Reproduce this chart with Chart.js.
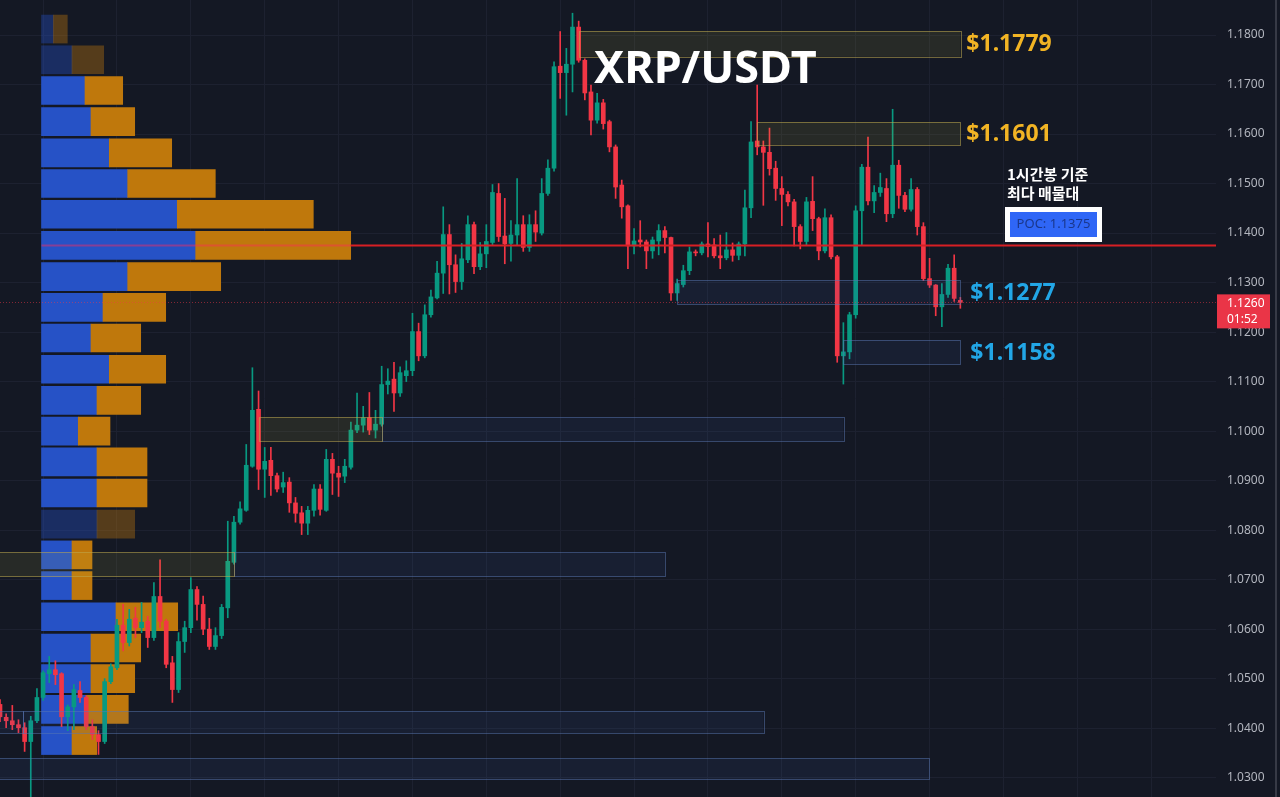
<!DOCTYPE html>
<html><head><meta charset="utf-8">
<script src="https://cdn.jsdelivr.net/npm/chart.js@4.4.0/dist/chart.umd.min.js"></script>
<style>html,body{margin:0;padding:0;background:#141824;overflow:hidden}canvas{display:block}</style>
</head><body>
<canvas id="c" width="1280" height="797"></canvas>
<script>
// ---- 1h candles (index 0 = leftmost visible) ----
const open  = [1.0448,1.0422,1.0415,1.0407,1.0401,1.0373,1.0415,1.0462,1.0510,1.0518,1.0510,1.0423,1.0443,1.0476,1.0462,1.0403,1.0387,1.0373,1.0494,1.0522,
1.0608,1.0573,1.0622,1.0603,1.0616,1.0583,1.0666,1.0616,1.0532,1.0478,1.0575,1.0603,1.0680,1.0650,1.0600,1.0565,1.0587,1.0643,1.0735,1.0816,
1.0840,1.0929,1.1044,1.0923,1.0941,1.0910,1.0887,1.0897,1.0855,1.0835,1.0814,1.0840,1.0883,1.0840,1.0943,1.0915,1.0909,1.0927,1.1002,1.1012,
1.1027,1.1002,1.1014,1.1094,1.1105,1.1077,1.1112,1.1122,1.1201,1.1152,1.1235,1.1269,1.1319,1.1397,1.1336,1.1302,1.1346,1.1417,1.1332,1.1358,
1.1381,1.1480,1.1394,1.1379,1.1396,1.1417,1.1371,1.1417,1.1400,1.1480,1.1531,1.1737,1.1724,1.1741,1.1816,1.1749,1.1685,1.1628,1.1663,1.1625,
1.1574,1.1497,1.1455,1.1374,1.1386,1.1382,1.1364,1.1384,1.1405,1.1391,1.1279,1.1296,1.1324,1.1362,1.1360,1.1378,1.1376,1.1354,1.1350,1.1366,
1.1355,1.1378,1.1451,1.1586,1.1574,1.1563,1.1531,1.1490,1.1478,1.1463,1.1413,1.1383,1.1464,1.1429,1.1364,1.1431,1.1352,1.1152,1.1160,1.1235,
1.1445,1.1533,1.1465,1.1482,1.1490,1.1439,1.1537,1.1476,1.1448,1.1488,1.1413,1.1308,1.1295,1.1251,1.1276,1.1329,1.1264];
const high  = [1.0458,1.0429,1.0446,1.0417,1.0411,1.0424,1.0480,1.0516,1.0545,1.0536,1.0512,1.0447,1.0488,1.0494,1.0466,1.0417,1.0395,1.0500,1.0530,1.0620,
1.0650,1.0640,1.0644,1.0654,1.0626,1.0694,1.0740,1.0620,1.0545,1.0593,1.0616,1.0704,1.0686,1.0667,1.0622,1.0603,1.0650,1.0818,1.0828,1.0857,
1.0973,1.1128,1.1081,1.0967,1.0967,1.0915,1.0917,1.0906,1.0866,1.0848,1.0848,1.0892,1.0892,1.0963,1.0955,1.0929,1.0943,1.1018,1.1077,1.1050,
1.1078,1.1042,1.1131,1.1126,1.1139,1.1130,1.1142,1.1238,1.1218,1.1255,1.1285,1.1343,1.1453,1.1417,1.1356,1.1379,1.1435,1.1422,1.1381,1.1417,
1.1498,1.1500,1.1470,1.1425,1.1510,1.1435,1.1437,1.1445,1.1510,1.1548,1.1746,1.1807,1.1773,1.1844,1.1828,1.1752,1.1699,1.1682,1.1670,1.1628,
1.1578,1.1507,1.1457,1.1409,1.1425,1.1386,1.1392,1.1417,1.1413,1.1392,1.1307,1.1335,1.1372,1.1366,1.1382,1.1421,1.1389,1.1396,1.1401,1.1380,
1.1382,1.1487,1.1625,1.1699,1.1586,1.1612,1.1545,1.1514,1.1484,1.1468,1.1417,1.1472,1.1514,1.1432,1.1449,1.1437,1.1355,1.1219,1.1240,1.1455,
1.1539,1.1594,1.1496,1.1521,1.1510,1.1650,1.1547,1.1482,1.1510,1.1492,1.1421,1.1349,1.1296,1.1298,1.1337,1.1356,1.1270];
const low   = [1.0413,1.0401,1.0397,1.0391,1.0353,1.0240,1.0411,1.0456,1.0492,1.0488,1.0403,1.0395,1.0397,1.0452,1.0397,1.0377,1.0347,1.0369,1.0490,1.0518,
1.0556,1.0566,1.0583,1.0593,1.0563,1.0577,1.0603,1.0522,1.0452,1.0472,1.0553,1.0593,1.0618,1.0589,1.0559,1.0559,1.0581,1.0623,1.0731,1.0812,
1.0838,1.0927,1.0882,1.0866,1.0870,1.0877,1.0876,1.0836,1.0816,1.0791,1.0791,1.0828,1.0830,1.0838,1.0872,1.0868,1.0896,1.0923,1.0997,1.0998,
1.0993,1.0986,1.1010,1.1075,1.1040,1.1070,1.1100,1.1112,1.1142,1.1148,1.1230,1.1267,1.1278,1.1277,1.1280,1.1286,1.1340,1.1318,1.1326,1.1330,
1.1375,1.1383,1.1338,1.1343,1.1375,1.1363,1.1363,1.1383,1.1396,1.1476,1.1525,1.1672,1.1638,1.1685,1.1745,1.1669,1.1598,1.1622,1.1610,1.1564,
1.1470,1.1430,1.1328,1.1358,1.1372,1.1328,1.1349,1.1356,1.1360,1.1264,1.1264,1.1291,1.1316,1.1354,1.1356,1.1352,1.1350,1.1328,1.1346,1.1343,
1.1346,1.1354,1.1431,1.1558,1.1456,1.1517,1.1466,1.1415,1.1455,1.1374,1.1368,1.1375,1.1405,1.1346,1.1360,1.1348,1.1139,1.1095,1.1146,1.1228,
1.1376,1.1457,1.1441,1.1474,1.1423,1.1431,1.1450,1.1443,1.1444,1.1396,1.1304,1.1290,1.1233,1.1211,1.1270,1.1262,1.1248];
const close = [1.0423,1.0415,1.0407,1.0401,1.0373,1.0415,1.0462,1.0512,1.0518,1.0508,1.0423,1.0443,1.0478,1.0462,1.0403,1.0387,1.0373,1.0494,1.0524,1.0608,
1.0573,1.0620,1.0603,1.0614,1.0583,1.0666,1.0616,1.0529,1.0478,1.0575,1.0603,1.0680,1.0650,1.0600,1.0565,1.0587,1.0644,1.0737,1.0816,1.0843,
1.0931,1.1042,1.0923,1.0939,1.0910,1.0883,1.0896,1.0855,1.0834,1.0814,1.0840,1.0883,1.0842,1.0943,1.0915,1.0907,1.0929,1.1002,1.1012,1.1027,
1.1002,1.1014,1.1094,1.1101,1.1077,1.1118,1.1122,1.1201,1.1152,1.1235,1.1271,1.1319,1.1397,1.1336,1.1302,1.1348,1.1417,1.1332,1.1358,1.1383,
1.1482,1.1393,1.1378,1.1396,1.1417,1.1371,1.1417,1.1402,1.1480,1.1531,1.1736,1.1724,1.1741,1.1816,1.1749,1.1683,1.1628,1.1663,1.1621,1.1574,
1.1493,1.1453,1.1374,1.1384,1.1382,1.1364,1.1386,1.1405,1.1391,1.1279,1.1298,1.1324,1.1362,1.1360,1.1378,1.1373,1.1354,1.1350,1.1366,1.1355,
1.1378,1.1451,1.1584,1.1574,1.1563,1.1530,1.1490,1.1478,1.1463,1.1413,1.1383,1.1463,1.1429,1.1364,1.1431,1.1352,1.1152,1.1160,1.1235,1.1445,
1.1533,1.1465,1.1482,1.1492,1.1439,1.1537,1.1476,1.1448,1.1488,1.1413,1.1308,1.1295,1.1251,1.1276,1.1329,1.1268,1.1260];

// ---- volume profile (rows top -> bottom), volumes in M XRP ----
const profilePrice = [1.1812,1.1750,1.1688,1.1625,1.1562,1.1500,1.1438,1.1375,1.1312,1.1250,1.1188,1.1125,
                      1.1062,1.1000,1.0938,1.0875,1.0812,1.0750,1.0688,1.0625,1.0562,1.0500,1.0438,1.0375];
const buyVol  = [1.18,3.05,4.35,4.95,6.78,8.62,13.58,15.42,8.62,6.15,4.95,6.78,5.55,3.68,5.55,5.55,5.55,3.05,3.05,7.45,4.95,4.95,4.55,3.05];
const sellVol = [1.40,3.17,3.77,4.37,6.24,8.76,13.60,15.50,9.30,6.27,4.97,5.64,4.37,3.17,5.00,5.00,3.77,2.00,2.00,6.17,4.97,4.37,4.13,2.47];
const dimRows = [0,1,16];

// ---- levels ----
const pocPrice = 1.1375;
const lastPrice = 1.1260;
const lastTimer = '01:52';
const timeGridIdx = [7,19,31,43,55,67,79,91,103,115,127,139,151,163,175,187];
const zones = [
  {from:62, to:137, top:1.1028, bottom:1.0980, kind:'blue'},
  {from:42, to:62,  top:1.1028, bottom:1.0980, kind:'gold'},
  {from:38, to:108, top:1.0755, bottom:1.0706, kind:'blue'},
  {from:-5, to:38,  top:1.0755, bottom:1.0706, kind:'gold'},
  {from:-5, to:3.7, top:1.0434, bottom:1.0390, kind:'blue'},
  {from:3.7,to:124, top:1.0434, bottom:1.0390, kind:'blue'},
  {from:-5, to:151, top:1.0339, bottom:1.0297, kind:'blue'},
  {from:94, to:156, top:1.1808, bottom:1.1756, kind:'gold', label:'$1.1779'},
  {from:123,to:156, top:1.1624, bottom:1.1578, kind:'gold', label:'$1.1601'},
  {from:110,to:156, top:1.1305, bottom:1.1256, kind:'blue', label:'$1.1277'},
  {from:137,to:156, top:1.1184, bottom:1.1135, kind:'blue', label:'$1.1158'}
];

const UP = '#089981', DOWN = '#f23645';
const candleColor = i => close[i] >= open[i] ? UP : DOWN;

const overlay = {
  id: 'overlay',
  beforeDraw(chart) {
    const c = chart.ctx;
    c.save(); c.fillStyle = '#141824'; c.fillRect(0, 0, chart.width, chart.height); c.restore();
  },
  afterDatasetsDraw(chart) {
    const c = chart.ctx, x = chart.scales.x, y = chart.scales.y, x2 = chart.scales.x2, a = chart.chartArea;
    c.save();
    c.beginPath(); c.rect(a.left, a.top, a.right - a.left, a.bottom - a.top); c.clip();
    zones.forEach(z => {
      const l = x.getPixelForValue(z.from), r = x.getPixelForValue(z.to);
      const t = y.getPixelForValue(z.top), b = y.getPixelForValue(z.bottom);
      if (z.kind === 'gold') { c.fillStyle = 'rgba(200,190,60,0.11)'; c.strokeStyle = 'rgba(190,170,80,0.55)'; }
      else { c.fillStyle = 'rgba(70,110,200,0.09)'; c.strokeStyle = 'rgba(90,120,180,0.5)'; }
      c.fillRect(l, t, r - l, b - t);
      c.lineWidth = 1; c.strokeRect(Math.round(l) + 0.5, Math.round(t) + 0.5, Math.round(r - l), Math.round(b - t));
    });
    const yp = Math.round(y.getPixelForValue(lastPrice)) + 0.5;
    c.strokeStyle = 'rgba(242,54,69,0.5)'; c.lineWidth = 1; c.setLineDash([1, 2]);
    c.beginPath(); c.moveTo(a.left, yp); c.lineTo(a.right, yp); c.stroke(); c.setLineDash([]);
    const yPoc = y.getPixelForValue(pocPrice);
    const pStart = x2.getPixelForValue(0);
    const pEnd = x2.getPixelForValue(buyVol[7] + sellVol[7]);
    c.lineWidth = 2;
    c.strokeStyle = 'rgba(255,40,90,0.45)';
    c.beginPath(); c.moveTo(pStart, yPoc); c.lineTo(pEnd, yPoc); c.stroke();
    c.strokeStyle = '#d71f24';
    c.beginPath(); c.moveTo(pEnd, yPoc); c.lineTo(a.right, yPoc); c.stroke();
    c.restore();
    c.save();
    c.textBaseline = 'middle';
    zones.forEach(z => {
      if (!z.label) return;
      const yy = y.getPixelForValue((z.top + z.bottom) / 2) + 1;
      const xx = x.getPixelForValue(z.to) + (z.kind === 'gold' ? 6 : 10);
      c.font = 'bold 23px "Noto Sans", "Open Sans", sans-serif';
      c.fillStyle = z.kind === 'gold' ? '#f2b424' : '#22a6e6';
      c.fillText(z.label, xx, yy);
    });
    c.restore();
  },
  afterDraw(chart) {
    const c = chart.ctx, y = chart.scales.y, a = chart.chartArea;
    c.save();
    c.fillStyle = '#ffffff'; c.textBaseline = 'alphabetic';
    c.font = 'bold 45px "Noto Sans", "Open Sans", sans-serif';
    c.fillText('XRP/USDT', 594, 83);
    c.font = 'bold 15px "Noto Sans CJK KR", sans-serif';
    c.textBaseline = 'middle';
    c.fillText('1시간봉 기준', 1007, 174);
    c.fillText('최다 매물대', 1007, 193);
    c.fillStyle = '#ffffff'; c.fillRect(1005, 207, 97, 35);
    c.fillStyle = '#2f66f6'; c.fillRect(1010, 212, 87, 25);
    c.fillStyle = '#1a378c'; c.font = '13px "Noto Sans", sans-serif'; c.textAlign = 'center';
    c.fillText('POC: ' + pocPrice.toFixed(4), 1053.5, 224.5);
    const yl = y.getPixelForValue(lastPrice);
    c.fillStyle = '#ea3547'; c.fillRect(a.right + 1, yl - 8, 53, 34);
    c.fillStyle = '#ffffff'; c.textAlign = 'left'; c.font = '12px "Noto Sans", sans-serif';
    c.fillText(lastPrice.toFixed(4), a.right + 11, yl + 1);
    c.fillText(lastTimer, a.right + 11, yl + 17);
    c.fillStyle = 'rgba(120,124,136,0.35)'; c.fillRect(1275, 0, 2, chart.height);
    c.restore();
  }
};

const chart = new Chart(document.getElementById('c'), {
  type: 'bar',
  data: {
    datasets: [
      { label: 'wick', data: open.map((o, i) => ({x: i, y: [low[i], high[i]]})),
        backgroundColor: ctx => candleColor(ctx.dataIndex), barThickness: 1, grouped: false, minBarLength: 1, order: 2 },
      { label: 'body', data: open.map((o, i) => ({x: i, y: [o, close[i]]})),
        backgroundColor: ctx => candleColor(ctx.dataIndex), barThickness: 4, grouped: false, minBarLength: 1, order: 1 },
      { label: 'buy', indexAxis: 'y', xAxisID: 'x2', yAxisID: 'y',
        data: profilePrice.map((p, k) => ({y: p, x: [0, buyVol[k]]})),
        backgroundColor: ctx => dimRows.includes(ctx.dataIndex) ? 'rgba(38,82,200,0.38)' : '#2652c6',
        barThickness: 28, grouped: false, order: 4 },
      { label: 'sell', indexAxis: 'y', xAxisID: 'x2', yAxisID: 'y',
        data: profilePrice.map((p, k) => ({y: p, x: [buyVol[k], buyVol[k] + sellVol[k]]})),
        backgroundColor: ctx => dimRows.includes(ctx.dataIndex) ? 'rgba(192,120,12,0.38)' : '#bf780c',
        barThickness: 28, grouped: false, order: 3 }
    ]
  },
  options: {
    responsive: false,
    animation: false,
    events: [],
    devicePixelRatio: 1,
    layout: { padding: 0, autoPadding: false },
    plugins: { legend: { display: false }, tooltip: { enabled: false } },
    scales: {
      x: {
        type: 'linear', min: 0, max: 197.53, offset: false,
        grid: { color: '#1d2130', drawTicks: false, offset: false },
        border: { display: false },
        ticks: { display: false },
        afterBuildTicks: s => { s.ticks = timeGridIdx.map(v => ({value: v})); }
      },
      x2: { type: 'linear', axis: 'x', display: false, min: -4.15, max: 117.45, offset: false, grid: { offset: false } },
      y: {
        type: 'linear', position: 'right', min: 1.02610, max: 1.18707, offset: false,
        grid: { color: '#1d2130', drawTicks: false, offset: false },
        border: { display: false },
        ticks: {
          stepSize: 0.01, includeBounds: false, padding: 11,
          color: '#b2b5be', font: { family: '"Noto Sans", sans-serif', size: 12 },
          callback: v => Number(v).toFixed(4)
        },
        afterFit: s => { s.width = 64; s.paddingTop = 0; s.paddingBottom = 0; }
      }
    }
  },
  plugins: [overlay]
});
</script>
</body></html>
